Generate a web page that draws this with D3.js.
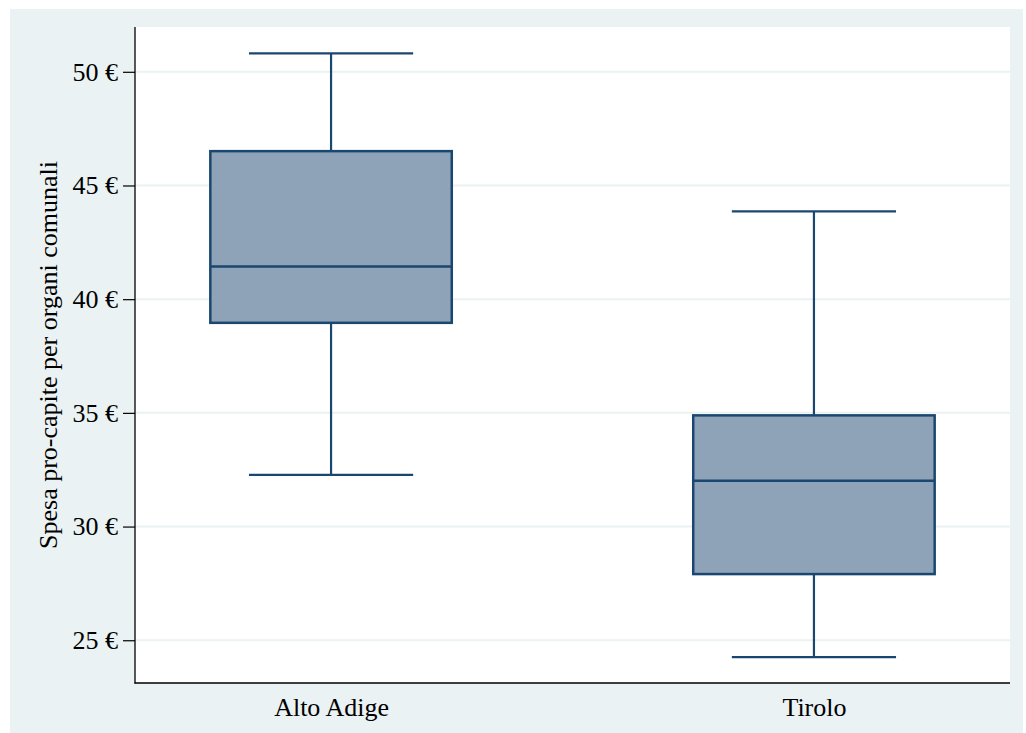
<!DOCTYPE html>
<html>
<head>
<meta charset="utf-8">
<script src="https://cdn.jsdelivr.net/npm/d3@7"></script>
<style>
  html, body { margin: 0; padding: 0; background: #ffffff; }
  svg { display: block; }
  text { font-family: "Liberation Serif", "DejaVu Serif", serif; fill: #000; }
</style>
</head>
<body>
<svg id="chart" width="1026" height="733"></svg>
<script>
const categories = ["Alto Adige", "Tirolo"];
const whiskerLow  = [32.27, 24.26];
const q1          = [38.96, 27.91];
const median      = [41.44, 32.01];
const q3          = [46.51, 34.89];
const whiskerHigh = [50.81, 43.86];
const yTicks = [25, 30, 35, 40, 45, 50];
const yTitle = "Spesa pro-capite per organi comunali";

const data = categories.map((c, i) => ({
  cat: c, lo: whiskerLow[i], q1: q1[i], med: median[i], q3: q3[i], hi: whiskerHigh[i]
}));

const svg = d3.select("#chart");
const W = 1026, H = 733;
const plot = { left: 135, right: 1010, top: 27, bottom: 683 };
const FS = 26;

// outer background
svg.append("rect").attr("x", 0).attr("y", 0).attr("width", W).attr("height", H).attr("fill", "#ffffff");
svg.append("rect").attr("x", 10).attr("y", 9).attr("width", 1013).attr("height", 724).attr("fill", "#eaf2f3");
// plot area
svg.append("rect").attr("x", plot.left).attr("y", plot.top)
  .attr("width", plot.right - plot.left).attr("height", plot.bottom - plot.top).attr("fill", "#ffffff");

const y = d3.scaleLinear().domain([23.12, 51.97]).range([plot.bottom, plot.top]);
const x = d3.scalePoint().domain(categories).range([plot.left, plot.right]).padding(0.406);
const step = x.step();
const boxW = step * 0.5;
const capW = step * 0.34;

// gridlines
svg.append("g").selectAll("line").data(yTicks).join("line")
  .attr("x1", plot.left).attr("x2", plot.right)
  .attr("y1", d => y(d)).attr("y2", d => y(d))
  .attr("stroke", "#eaf2f3").attr("stroke-width", 2);

const navy = "#1a476f";
const g = svg.append("g");
const box = g.selectAll("g.box").data(data).join("g").attr("class", "box");

// whiskers
box.append("line")
  .attr("x1", d => x(d.cat)).attr("x2", d => x(d.cat))
  .attr("y1", d => y(d.hi)).attr("y2", d => y(d.q3))
  .attr("stroke", navy).attr("stroke-width", 2.2);
box.append("line")
  .attr("x1", d => x(d.cat)).attr("x2", d => x(d.cat))
  .attr("y1", d => y(d.q1)).attr("y2", d => y(d.lo))
  .attr("stroke", navy).attr("stroke-width", 2.2);
// caps
box.append("line")
  .attr("x1", d => x(d.cat) - capW / 2).attr("x2", d => x(d.cat) + capW / 2)
  .attr("y1", d => y(d.hi)).attr("y2", d => y(d.hi))
  .attr("stroke", navy).attr("stroke-width", 2.2);
box.append("line")
  .attr("x1", d => x(d.cat) - capW / 2).attr("x2", d => x(d.cat) + capW / 2)
  .attr("y1", d => y(d.lo)).attr("y2", d => y(d.lo))
  .attr("stroke", navy).attr("stroke-width", 2.2);
// box
box.append("rect")
  .attr("x", d => x(d.cat) - boxW / 2).attr("width", boxW)
  .attr("y", d => y(d.q3)).attr("height", d => y(d.q1) - y(d.q3))
  .attr("fill", "#8ea3b8").attr("stroke", navy).attr("stroke-width", 2.5);
// median
box.append("line")
  .attr("x1", d => x(d.cat) - boxW / 2).attr("x2", d => x(d.cat) + boxW / 2)
  .attr("y1", d => y(d.med)).attr("y2", d => y(d.med))
  .attr("stroke", navy).attr("stroke-width", 2.5);

// y axis
const yAxis = d3.axisLeft(y).tickValues(yTicks).tickSize(12).tickPadding(5)
  .tickFormat(d => d + " €");
const ya = svg.append("g").attr("transform", `translate(${plot.left},0)`).call(yAxis);
ya.attr("font-size", FS).attr("font-family", "Liberation Serif");
ya.select(".domain").remove();
ya.selectAll(".tick line").attr("stroke", "#000").attr("stroke-width", 1.2);
ya.selectAll(".tick text").attr("font-size", FS).attr("font-family", "Liberation Serif").attr("fill", "#000");
svg.append("line").attr("x1", plot.left).attr("x2", plot.left)
  .attr("y1", plot.top).attr("y2", plot.bottom + 0.5).attr("stroke", "#000").attr("stroke-width", 1.3);

// x axis
const xAxis = d3.axisBottom(x).tickSize(0).tickPadding(15);
const xa = svg.append("g").attr("transform", `translate(0,${plot.bottom})`).call(xAxis);
xa.attr("font-size", FS).attr("font-family", "Liberation Serif");
xa.select(".domain").remove();
xa.selectAll(".tick text").attr("font-size", FS).attr("font-family", "Liberation Serif").attr("fill", "#000");
svg.append("line").attr("x1", plot.left - 0.5).attr("x2", plot.right)
  .attr("y1", plot.bottom).attr("y2", plot.bottom).attr("stroke", "#000").attr("stroke-width", 1.3);

// y title
svg.append("text")
  .attr("transform", `translate(57,${(plot.top + plot.bottom) / 2}) rotate(-90)`)
  .attr("text-anchor", "middle")
  .attr("font-size", FS)
  .text(yTitle);
</script>
</body>
</html>
